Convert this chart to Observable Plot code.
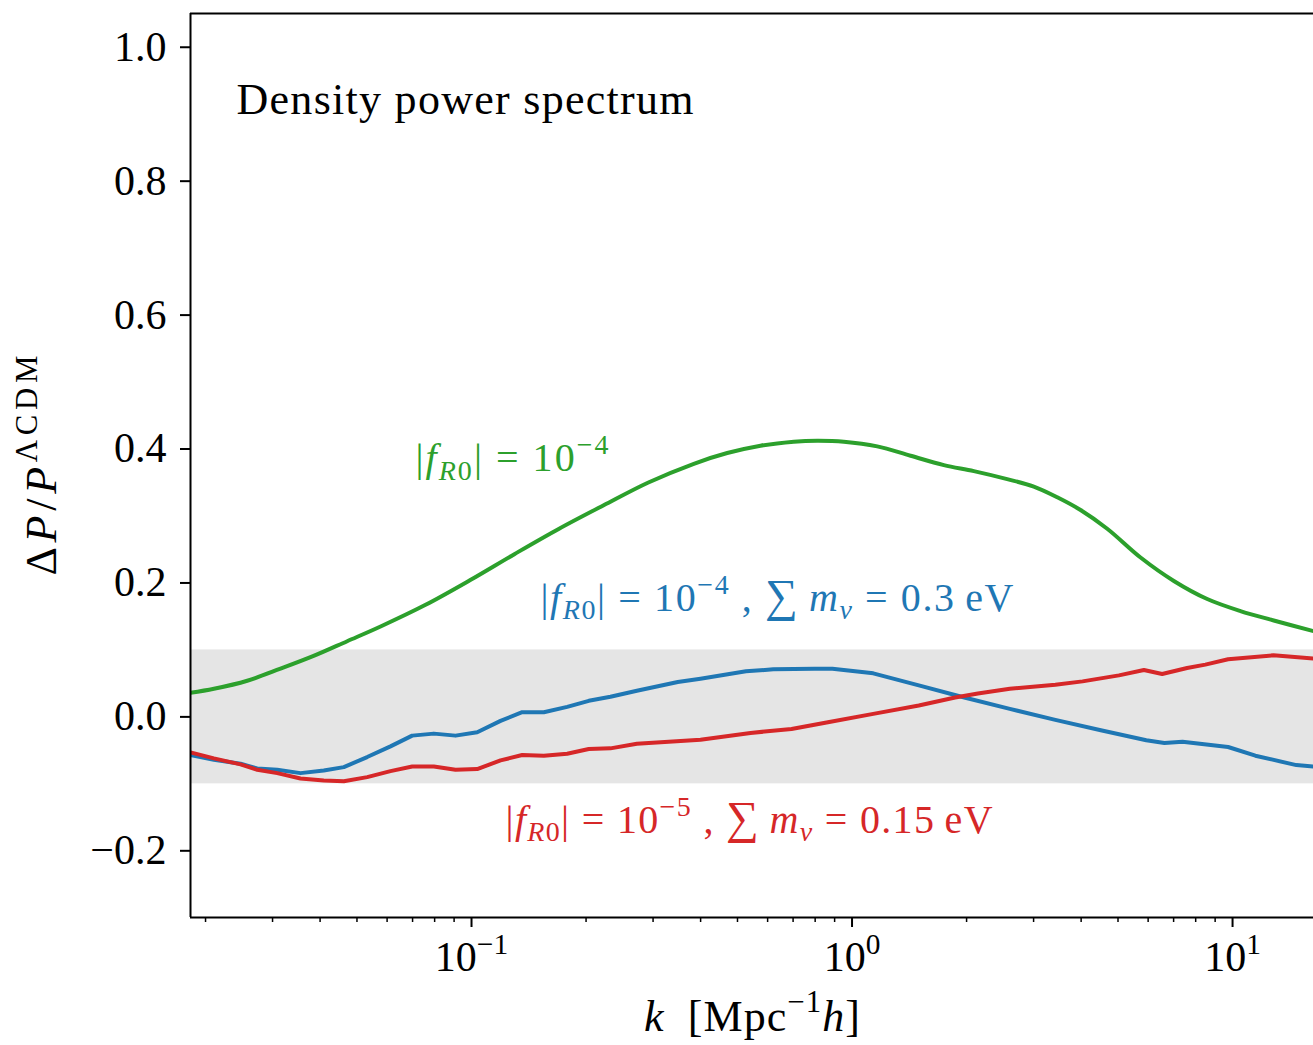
<!DOCTYPE html>
<html><head><meta charset="utf-8">
<script src="https://cdn.jsdelivr.net/npm/d3@7"></script>
<script src="https://cdn.jsdelivr.net/npm/@observablehq/plot@0.6"></script>
<style>body{margin:0;background:#fff}</style>
</head><body><div id="chart"></div>
<script>
// ---- data ----
const kGreen = [0.01826,0.02104,0.02574,0.03148,0.03846,0.04713,0.05768,0.07551,0.0990,0.1296,0.1699,0.2225,0.2916,0.3839,0.4699,0.5747,0.7031,0.8100,0.9515,1.165,1.425,1.743,2.090,2.557,3.004,3.462,3.986,4.684,5.731,7.010,8.579,10.49,12.83,16.32];
const vGreen = [0.036,0.042,0.054,0.072,0.091,0.113,0.135,0.167,0.204,0.243,0.281,0.316,0.350,0.378,0.394,0.405,0.411,0.4124,0.411,0.404,0.390,0.376,0.367,0.355,0.344,0.328,0.309,0.281,0.238,0.203,0.176,0.158,0.144,0.128];

const kBlue = [0.01826,0.02104,0.02472,0.02734,0.03086,0.03553,0.04090,0.04618,0.05319,0.06124,0.06985,0.07962,0.09078,0.1035,0.1192,0.1359,0.1549,0.1784,0.2033,0.2318,0.2720,0.3484,0.3997,0.5264,0.6210,0.7957,0.8880,1.137,1.498,1.973,2.598,3.422,4.506,5.933,6.621,7.387,9.734,11.48,14.71,16.32];
const vBlue = [-0.057,-0.064,-0.070,-0.077,-0.079,-0.084,-0.080,-0.075,-0.060,-0.044,-0.028,-0.025,-0.028,-0.023,-0.006,0.007,0.007,0.015,0.024,0.030,0.039,0.052,0.057,0.068,0.071,0.072,0.072,0.065,0.047,0.029,0.012,-0.0045,-0.020,-0.035,-0.039,-0.037,-0.045,-0.058,-0.072,-0.074];

const kRed = [0.01826,0.02104,0.02472,0.02734,0.03086,0.03553,0.04090,0.04618,0.05319,0.06124,0.06985,0.07962,0.09078,0.1035,0.1192,0.1359,0.1549,0.1784,0.2033,0.2318,0.2720,0.3997,0.5410,0.6934,0.8643,1.137,1.498,1.866,2.142,2.598,3.422,4.034,5.028,5.849,6.531,7.595,8.481,9.734,12.81,16.32];
const vRed = [-0.053,-0.062,-0.071,-0.079,-0.084,-0.092,-0.095,-0.096,-0.090,-0.081,-0.074,-0.074,-0.079,-0.078,-0.065,-0.057,-0.058,-0.055,-0.048,-0.047,-0.040,-0.034,-0.024,-0.018,-0.008,0.0045,0.017,0.029,0.035,0.042,0.048,0.053,0.062,0.070,0.064,0.073,0.078,0.086,0.092,0.087];

const bandLimits = [-0.1, 0.1];
const xDomain = [0.01826, 16.32];
const yDomain = [-0.2996, 1.0504];
const yTicks = [-0.2, 0, 0.2, 0.4, 0.6, 0.8, 1.0];
const xMajorTicks = [0.1, 1, 10];
const xMinorTicks = [0.02,0.03,0.04,0.05,0.06,0.07,0.08,0.09,0.2,0.3,0.4,0.5,0.6,0.7,0.8,0.9,2,3,4,5,6,7,8,9];

const titleText = "Density power spectrum";
const xLabel = "k [Mpc^-1h]";
const yLabel = "ΔP/P^ΛCDM";
const seriesLabels = [
  {key: "green-label", k: 0.07126, v: 0.3676, color: "#2ca02c"},
  {key: "blue-label",  k: 0.1518,  v: 0.1587, color: "#1f77b4"},
  {key: "red-label",   k: 0.1229,  v: -0.1727, color: "#d62728"}
];

// ---- build ----
const FONT = "'Liberation Serif', 'DejaVu Serif', serif";
const FS = 42;
const zip = (ks, vs) => ks.map((k, i) => ({k, v: vs[i]}));
const green = zip(kGreen, vGreen), blue = zip(kBlue, vBlue), red = zip(kRed, vRed);

const marks = [
  Plot.rect([{lo: bandLimits[0], hi: bandLimits[1]}], {y1: "lo", y2: "hi", fill: "#e5e5e5"}),
  Plot.line(green, {x: "k", y: "v", stroke: "#2ca02c", strokeWidth: 4, curve: "catmull-rom", clip: true}),
  Plot.line(blue, {x: "k", y: "v", stroke: "#1f77b4", strokeWidth: 4, clip: true}),
  Plot.line(red, {x: "k", y: "v", stroke: "#d62728", strokeWidth: 4, clip: true}),
  Plot.ruleX([xDomain[0]], {stroke: "black", strokeWidth: 2}),
  Plot.ruleY([yDomain[0], yDomain[1]], {stroke: "black", strokeWidth: 2}),
  Plot.axisY(yTicks, {tickSize: 10, tickPadding: 14, strokeWidth: 2, fontSize: FS, label: null,
    tickFormat: d => (d < 0 ? "−" : "") + Math.abs(d).toFixed(1)}),
  Plot.axisX(xMajorTicks, {tickSize: 10, tickPadding: 14, strokeWidth: 2, fontSize: FS, label: null,
    tickFormat: d => "10^" + Math.round(Math.log10(d))}),
  Plot.axisX(xMinorTicks, {tickSize: 5, strokeWidth: 1.5, label: null, tickFormat: () => ""}),
  Plot.text([titleText], {frameAnchor: "top-left", dx: 46, dy: 100, lineAnchor: "bottom", textAnchor: "start", fontSize: 44}),
  Plot.text([xLabel], {frameAnchor: "bottom", dy: 113, lineAnchor: "bottom", textAnchor: "middle", fontSize: 44}),
  Plot.text([yLabel], {frameAnchor: "left", dx: -135, rotate: -90, lineAnchor: "bottom", textAnchor: "middle", fontSize: 44}),
  ...seriesLabels.map(s => Plot.text([s], {x: "k", y: "v", text: "key", fill: s.color, textAnchor: "start", lineAnchor: "bottom", fontSize: 40}))
];

const chart = Plot.plot({
  width: 1313, height: 1045,
  marginLeft: 190, marginRight: 0, marginTop: 13, marginBottom: 128,
  style: {fontFamily: FONT, fontSize: FS + "px", background: "white", color: "black"},
  x: {type: "log", domain: xDomain},
  y: {domain: yDomain},
  marks
});
document.getElementById("chart").appendChild(chart);

// ---- rich (math) text ----
const rich = {
  "10^-1": {parts: [{t: "10"}, {t: "−1", sup: 1}]},
  "10^0": {parts: [{t: "10"}, {t: "0", sup: 1}]},
  "10^1": {parts: [{t: "10"}, {t: "1", sup: 1}]},
  "Density power spectrum": {parts: [{t: "Density power spectrum"}], len: 457},
  "k [Mpc^-1h]": {parts: [{t: "k", i: 1}, {t: "\u2002[Mpc"}, {t: "−1", sup: 1}, {t: "h", i: 1}, {t: "]"}], len: 216},
  "ΔP/P^ΛCDM": {parts: [{t: "Δ"}, {t: "P", i: 1}, {t: "/"}, {t: "P", i: 1}, {t: "ΛCDM", sup: 1}], len: 220},
  "green-label": {parts: [{t: "|"}, {t: "f", i: 1}, {t: "R", i: 1, sub: 1}, {t: "0", sub: 1}, {t: "| = 10"}, {t: "−4", sup: 1}], len: 193},
  "blue-label": {parts: [{t: "|"}, {t: "f", i: 1}, {t: "R", i: 1, sub: 1}, {t: "0", sub: 1}, {t: "| = 10"}, {t: "−4", sup: 1},
    {t: " , "}, {t: "∑", big: 1}, {t: "\u2009"}, {t: "m", i: 1}, {t: "ν", i: 1, sub: 1}, {t: " = 0.3\u2009eV"}], len: 473},
  "red-label": {parts: [{t: "|"}, {t: "f", i: 1}, {t: "R", i: 1, sub: 1}, {t: "0", sub: 1}, {t: "| = 10"}, {t: "−5", sup: 1},
    {t: " , "}, {t: "∑", big: 1}, {t: "\u2009"}, {t: "m", i: 1}, {t: "ν", i: 1, sub: 1}, {t: " = 0.15\u2009eV"}], len: 487}
};
d3.select(chart).selectAll("text").each(function() {
  const spec = rich[this.textContent];
  if (!spec) return;
  const el = d3.select(this);
  const fs = parseFloat(el.attr("font-size")) || parseFloat(getComputedStyle(this).fontSize) || FS;
  el.text(null);
  let cur = 0;
  for (const p of spec.parts) {
    const target = p.sup ? -0.42 * fs : p.sub ? 0.22 * fs : 0;
    const ts = el.append("tspan").text(p.t).attr("dy", (target - cur) + "px");
    cur = target;
    if (p.sup || p.sub) ts.attr("font-size", (0.7 * fs) + "px");
    if (p.big) ts.attr("font-size", (1.15 * fs) + "px");
    if (p.i) ts.attr("font-style", "italic");
  }
  if (spec.len) el.attr("textLength", spec.len).attr("lengthAdjust", "spacing");
});
</script>
</body></html>
